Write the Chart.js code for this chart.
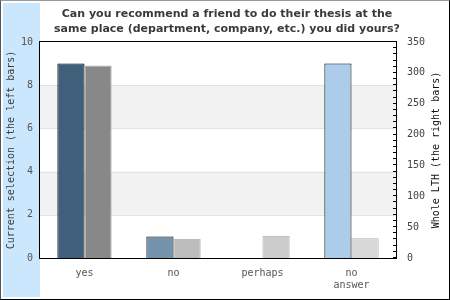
<!DOCTYPE html>
<html>
<head>
<meta charset="utf-8">
<script src="https://cdn.jsdelivr.net/npm/chart.js@4"></script>
<style>
  body { margin: 0; background: #fff; }
  #cadre {
    width: 450px; height: 300px; box-sizing: border-box;
    border: 1px solid #000; border-top-color: #999; border-left-color: #555;
    position: relative;
  }
  #cadre canvas { display: block; }
</style>
</head>
<body>
<div id="cadre"><canvas id="grafico" width="448" height="298"></canvas></div>
<script>
/* =========================
   Thesis recommendation chart
========================= */

const TITULO = [
  'Can you recommend a friend to do their thesis at the',
  'same place (department, company, etc.) you did yours?'
];
const CATEGORIAS = [['yes'], ['no'], ['perhaps'], ['no', 'answer']];
const SELECAO_ATUAL = [9, 1, 0, 9];          // left bars, left axis
const LTH_INTEIRO = [312, 31, 36, 32];        // right bars, right axis
const TICKS_ESQ = [0, 2, 4, 6, 8, 10];
const TICKS_DIR = [0, 50, 100, 150, 200, 250, 300, 350];

const CORES_ESQ = ['#3f5f7a', '#7494ae', '#9fb8cc', '#abcde9'];
const CORES_DIR = ['#888888', '#bcbcbc', '#cccccc', '#d8d8d8'];

const MONO = '"DejaVu Sans Mono", monospace';

// Fundo, faixas, moldura e títulos desenhados à mão
const decoracao = {
  id: 'decoracao',
  beforeDraw(chart) {
    const c = chart.ctx;
    c.save();
    c.fillStyle = '#cbe7fe';
    c.fillRect(2, 2, 37, 294);
    c.restore();
  },
  beforeDatasetsDraw(chart) {
    const c = chart.ctx;
    const a = chart.chartArea;
    const y = chart.scales.y;
    c.save();
    c.fillStyle = '#f2f2f2';
    [[2, 4], [6, 8]].forEach(([lo, hi]) => {
      const t = y.getPixelForValue(hi), b = y.getPixelForValue(lo);
      c.fillRect(a.left, t, a.right - a.left, b - t);
    });
    c.strokeStyle = '#e2e2e2';
    c.lineWidth = 1;
    [2, 4, 6, 8].forEach(v => {
      const p = Math.round(y.getPixelForValue(v)) + 0.5;
      c.beginPath(); c.moveTo(a.left, p); c.lineTo(a.right, p); c.stroke();
    });
    c.restore();
  },
  afterDraw(chart) {
    const c = chart.ctx;
    const a = chart.chartArea;
    const y1 = chart.scales.y1;
    c.save();
    // moldura
    c.strokeStyle = '#000';
    c.lineWidth = 1;
    c.strokeRect(Math.round(a.left) - 0.5, Math.round(a.top) - 0.5,
      Math.round(a.right - a.left) + 1, Math.round(a.bottom - a.top) + 1);
    // ticks menores do eixo direito
    for (let v = 0; v <= 350; v += 10) {
      const p = Math.round(y1.getPixelForValue(v)) - 0.5;
      c.beginPath(); c.moveTo(a.right - 3, p); c.lineTo(a.right, p); c.stroke();
    }
    // título
    c.fillStyle = '#3a3a3a';
    c.font = 'bold 11px "DejaVu Sans", sans-serif';
    c.textAlign = 'center';
    c.textBaseline = 'middle';
    TITULO.forEach((l, i) => c.fillText(l, 226, 13 + i * 15));
    // títulos dos eixos
    c.font = '10px ' + MONO;
    c.fillStyle = '#3a3a3a';
    c.translate(10, (a.top + a.bottom) / 2);
    c.rotate(-Math.PI / 2);
    c.fillText('Current selection (the left bars)', 0, 0);
    c.restore();
    c.save();
    c.font = '10px ' + MONO;
    c.fillStyle = '#111';
    c.textAlign = 'center';
    c.textBaseline = 'middle';
    c.translate(435, (a.top + a.bottom) / 2);
    c.rotate(-Math.PI / 2);
    c.fillText('Whole LTH (the right bars)', 0, 0);
    c.restore();
  }
};

new Chart(document.getElementById('grafico'), {
  type: 'bar',
  data: {
    labels: CATEGORIAS,
    datasets: [{
      label: 'Current selection',
      data: SELECAO_ATUAL,
      yAxisID: 'y',
      backgroundColor: CORES_ESQ,
      borderColor: '#000',
      borderWidth: 1,
      categoryPercentage: 0.61,
      barPercentage: 1
    }, {
      label: 'Whole LTH',
      data: LTH_INTEIRO,
      yAxisID: 'y1',
      backgroundColor: CORES_DIR,
      borderColor: '#adadad',
      borderWidth: 1,
      categoryPercentage: 0.61,
      barPercentage: 1
    }]
  },
  options: {
    responsive: false,
    animation: false,
    layout: { padding: { top: 41, left: 0, right: 0, bottom: 0 } },
    plugins: {
      legend: { display: false },
      tooltip: { enabled: false }
    },
    scales: {
      x: {
        afterFit: s => { s.height = 41; },
        grid: { display: false, drawTicks: false },
        border: { display: false },
        ticks: {
          color: '#555', padding: 9, maxRotation: 0,
          font: { family: MONO, size: 10 }
        }
      },
      y: {
        position: 'left',
        min: 0, max: 10,
        afterFit: s => { s.width = 39; },
        afterBuildTicks: s => { s.ticks = TICKS_ESQ.map(v => ({ value: v })); },
        grid: { display: false, drawTicks: false },
        border: { display: false },
        ticks: {
          color: '#555', padding: 7,
          font: { family: MONO, size: 10 }
        }
      },
      y1: {
        position: 'right',
        min: 0, max: 350,
        afterFit: s => { s.width = 53; },
        afterBuildTicks: s => { s.ticks = TICKS_DIR.map(v => ({ value: v })); },
        grid: { display: false, drawTicks: false },
        border: { display: false },
        ticks: {
          color: '#444', padding: 11,
          font: { family: MONO, size: 10 }
        }
      }
    }
  },
  plugins: [decoracao]
});
</script>
</body>
</html>
